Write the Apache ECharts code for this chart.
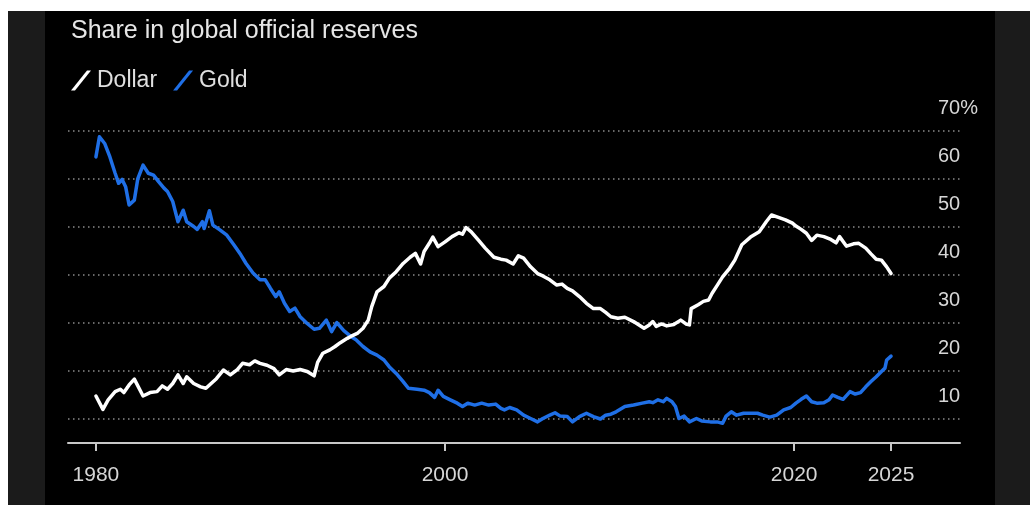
<!DOCTYPE html>
<html>
<head>
<meta charset="utf-8">
<script src="https://cdn.jsdelivr.net/npm/echarts@6/dist/echarts.min.js"></script>
<style>
  html, body { margin: 0; padding: 0; background: #ffffff; }
  #wrap { position: relative; width: 1030px; height: 505px; overflow: hidden; background: #ffffff; }
  #frame { position: absolute; left: 8px; top: 11px; right: 0; bottom: 0; background: #1b1b1b; }
  #panel { position: absolute; left: 45px; top: 11px; width: 950px; bottom: 0; background: #000000; }
  #chart { position: absolute; left: 0; top: 0; width: 1030px; height: 505px; }
</style>
</head>
<body>
<div id="wrap">
  <div id="frame"></div>
  <div id="panel"></div>
  <div id="chart"></div>
</div>
<script>
const titleText = 'Share in global official reserves';
const seriesNames = ['Dollar', 'Gold'];
const xTickValues = [1980, 2000, 2020, 2025.55];
const yTickValues = [10, 20, 30, 40, 50, 60, 70];

const dollarYears = [1980.0,1980.4,1980.7,1981.1,1981.4,1981.6,1981.9,1982.2,1982.7,1983.1,1983.5,1983.8,1984.1,1984.4,1984.7,1985.0,1985.2,1985.6,1986.0,1986.3,1986.9,1987.3,1987.7,1988.1,1988.4,1988.8,1989.1,1989.4,1989.8,1990.2,1990.5,1990.9,1991.3,1991.7,1992.1,1992.5,1992.7,1993.0,1993.4,1993.7,1994.0,1994.4,1994.6,1995.0,1995.3,1995.6,1995.8,1996.1,1996.5,1996.8,1997.2,1997.6,1998.0,1998.3,1998.6,1998.8,1999.1,1999.3,1999.6,2000.0,2000.4,2000.8,2001.0,2001.2,2001.5,2001.9,2002.3,2002.8,2003.2,2003.5,2003.9,2004.2,2004.5,2004.9,2005.3,2005.6,2006.0,2006.4,2006.7,2007.0,2007.3,2007.7,2008.1,2008.5,2008.9,2009.2,2009.5,2009.9,2010.3,2010.8,2011.4,2011.7,2011.9,2012.1,2012.4,2012.7,2013.1,2013.5,2013.8,2014.0,2014.1,2014.5,2014.8,2015.1,2015.3,2015.6,2015.9,2016.3,2016.6,2017.0,2017.5,2018.0,2018.4,2018.7,2019.1,2019.5,2019.9,2020.1,2020.4,2020.7,2021.0,2021.3,2021.7,2022.1,2022.4,2022.6,2023.0,2023.4,2023.7,2024.1,2024.4,2024.7,2025.0,2025.3,2025.55];
const dollarValues = [14.8,12.0,14.0,15.7,16.2,15.5,17.1,18.3,14.8,15.5,15.7,16.9,16.2,17.4,19.2,17.4,18.8,17.4,16.7,16.4,18.4,20.2,19.2,20.3,21.6,21.3,22.1,21.6,21.2,20.5,19.2,20.3,20.0,20.3,19.9,19.0,21.8,23.7,24.4,25.1,25.9,26.8,27.2,27.9,28.9,30.6,33.4,36.5,37.6,39.3,40.7,42.4,43.7,44.5,42.3,44.9,46.6,47.9,45.9,46.9,48.0,48.8,48.5,49.9,49.0,47.3,45.6,43.7,43.3,43.1,42.3,44.0,43.5,41.7,40.3,39.8,39.0,37.9,38.1,37.2,36.7,35.5,34.1,33.0,33.0,32.2,31.3,31.0,31.2,30.3,28.9,29.6,30.3,29.3,29.8,29.4,29.7,30.6,29.8,29.6,33.0,33.8,34.5,34.8,36.2,37.9,39.6,41.4,43.1,46.3,47.9,49.0,51.1,52.5,52.0,51.5,50.8,50.2,49.5,48.7,47.2,48.3,48.0,47.4,46.7,48.0,46.0,46.5,46.6,45.6,44.4,43.3,43.1,41.7,40.3];

const goldYears = [1980.0,1980.2,1980.5,1980.8,1981.1,1981.3,1981.5,1981.7,1981.9,1982.2,1982.4,1982.7,1983.0,1983.3,1983.6,1983.9,1984.1,1984.4,1984.7,1985.0,1985.2,1985.6,1985.8,1986.1,1986.2,1986.5,1986.7,1987.1,1987.5,1987.9,1988.3,1988.6,1989.0,1989.4,1989.7,1990.0,1990.3,1990.5,1990.8,1991.1,1991.4,1991.7,1992.1,1992.5,1992.8,1993.2,1993.5,1993.8,1994.2,1994.6,1994.9,1995.3,1995.7,1996.1,1996.5,1996.8,1997.2,1997.6,1997.9,1998.4,1998.8,1999.1,1999.4,1999.6,1999.9,2000.3,2000.7,2001.0,2001.3,2001.7,2002.1,2002.5,2002.9,2003.2,2003.4,2003.7,2004.1,2004.5,2004.9,2005.3,2005.6,2006.0,2006.3,2006.6,2007.0,2007.3,2007.7,2008.1,2008.5,2008.9,2009.2,2009.5,2009.8,2010.3,2010.8,2011.3,2011.7,2011.9,2012.2,2012.5,2012.7,2013.0,2013.2,2013.4,2013.7,2014.0,2014.4,2014.7,2015.2,2015.6,2015.9,2016.1,2016.4,2016.7,2017.1,2017.5,2017.9,2018.2,2018.6,2019.0,2019.4,2019.8,2020.1,2020.4,2020.7,2021.0,2021.3,2021.7,2022.0,2022.2,2022.5,2022.8,2023.2,2023.5,2023.8,2024.1,2024.4,2024.7,2025.0,2025.2,2025.3,2025.55];
const goldValues = [64.6,68.8,67.4,64.6,61.2,59.1,59.9,58.4,54.6,55.6,60.1,62.9,61.2,60.8,59.4,58.1,57.4,55.3,51.1,53.5,51.1,50.1,49.5,51.1,49.7,53.4,50.4,49.4,48.3,46.3,44.2,42.4,40.4,39.0,39.0,37.2,35.5,36.5,34.1,32.4,33.1,31.3,29.9,28.7,28.9,30.6,28.2,30.1,28.4,27.2,26.5,25.1,24.0,23.3,22.3,20.9,19.5,17.8,16.4,16.2,16.0,15.5,14.5,16.0,14.7,14.0,13.3,12.6,13.3,12.9,13.3,12.9,13.1,12.2,11.9,12.4,11.9,10.8,10.1,9.4,10.1,10.8,11.3,10.6,10.5,9.4,10.5,11.2,10.5,10.0,10.8,11.0,11.5,12.6,12.9,13.3,13.6,13.4,14.0,13.6,14.3,13.6,12.6,10.1,10.6,9.4,10.1,9.6,9.4,9.4,9.1,10.6,11.5,10.8,11.2,11.2,11.2,10.8,10.4,10.8,11.9,12.4,13.3,14.1,14.8,13.6,13.3,13.4,14.0,15.0,14.5,14.1,15.7,15.2,15.5,16.7,17.8,18.8,19.9,20.6,22.3,23.1];

function zip(xs, ys) { return xs.map((x, i) => [x, ys[i]]); }

const slashIcon = 'path://M0,20 L4,20 L20,0 L16,0 Z';
const FONT = '"Liberation Sans", Arial, sans-serif';

const chart = echarts.init(document.getElementById('chart'), null, { renderer: 'canvas' });
chart.setOption({
  backgroundColor: 'transparent',
  animation: false,
  title: {
    text: titleText,
    left: 66, top: 14,
    textStyle: { color: '#e6e6e6', fontSize: 25, fontWeight: 'normal', fontFamily: FONT }
  },
  legend: {
    left: 66, top: 64,
    itemWidth: 22, itemHeight: 20, itemGap: 16,
    icon: slashIcon,
    textStyle: { color: '#e0e0e0', fontSize: 23, fontFamily: FONT },
    data: seriesNames
  },
  grid: { left: 68, right: 70, top: 131, bottom: 62, containLabel: false },
  xAxis: {
    type: 'value',
    min: 1978.4, max: 2029.5,
    axisLine: { show: true, lineStyle: { color: '#c8c8c8', width: 2 } },
    axisTick: { show: true, customValues: xTickValues, length: 8, lineStyle: { color: '#c8c8c8', width: 2 } },
    axisLabel: {
      customValues: xTickValues, margin: 22,
      color: '#d6d6d6', fontSize: 21, fontFamily: FONT,
      formatter: v => String(Math.floor(v))
    },
    splitLine: { show: false }
  },
  yAxis: {
    type: 'value',
    position: 'right',
    min: 5, max: 70,
    axisLine: { show: false },
    axisTick: { show: false, customValues: yTickValues },
    axisLabel: {
      customValues: yTickValues,
      margin: -22, align: 'left', verticalAlign: 'bottom',
      padding: [0, 0, 13, 0],
      color: '#d6d6d6', fontSize: 20, fontFamily: FONT,
      formatter: v => (v === 70 ? v + '%' : String(v))
    },
    splitLine: { show: true, lineStyle: { color: '#8a8a8a', width: 1.5, type: [1.5, 3.5] } }
  },
  series: [
    {
      name: seriesNames[0], type: 'line', data: zip(dollarYears, dollarValues),
      showSymbol: false, symbol: 'none', color: '#ffffff',
      lineStyle: { color: '#ffffff', width: 3.5, join: 'round', cap: 'round' }, z: 3
    },
    {
      name: seriesNames[1], type: 'line', data: zip(goldYears, goldValues),
      showSymbol: false, symbol: 'none', color: '#1f6fe6',
      lineStyle: { color: '#1f6fe6', width: 3.5, join: 'round', cap: 'round' }, z: 2
    }
  ]
});
</script>
</body>
</html>
